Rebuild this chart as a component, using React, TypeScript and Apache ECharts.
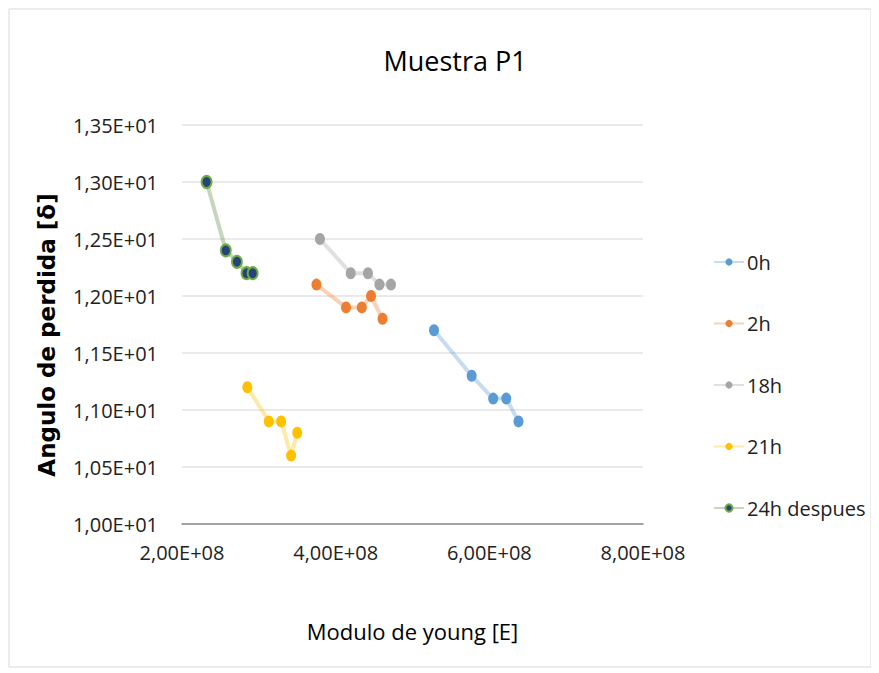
import React, { useEffect, useRef } from "react";
import * as echarts from "echarts";

const seriesNames = ["0h", "2h", "18h", "21h", "24h despues"];
const s0h: [number, number][] = [[5.28e8, 11.7], [5.77e8, 11.3], [6.05e8, 11.1], [6.22e8, 11.1], [6.38e8, 10.9]];
const s2h: [number, number][] = [[3.75e8, 12.1], [4.135e8, 11.9], [4.34e8, 11.9], [4.46e8, 12.0], [4.61e8, 11.8]];
const s18h: [number, number][] = [[3.795e8, 12.5], [4.196e8, 12.2], [4.42e8, 12.2], [4.57e8, 12.1], [4.72e8, 12.1]];
const s21h: [number, number][] = [[2.85e8, 11.2], [3.13e8, 10.9], [3.29e8, 10.9], [3.42e8, 10.6], [3.5e8, 10.8]];
const s24h: [number, number][] = [[2.32e8, 13.0], [2.57e8, 12.4], [2.715e8, 12.3], [2.84e8, 12.2], [2.92e8, 12.2]];
const allData = [s0h, s2h, s18h, s21h, s24h];
const markerColors = ["#5B9BD5", "#ED7D31", "#A5A5A5", "#FFC000", "#264478"];
const lineColors = ["rgba(91,155,213,0.35)", "rgba(237,125,49,0.35)", "rgba(165,165,165,0.35)", "rgba(255,192,0,0.35)", "rgba(112,150,90,0.4)"];

const FONT = "'Open Sans', sans-serif";
const yTitle = "Angulo de perdida [δ]";

export default function App() {
  const ref = useRef<HTMLDivElement>(null);
  useEffect(() => {
    if (!ref.current) return;
    const chart = echarts.init(ref.current, undefined, { renderer: "svg" });
    chart.setOption({
      animation: false,
      backgroundColor: "#ffffff",
      graphic: [
        {
          type: "rect",
          shape: { x: 1, y: 1, width: 862, height: 658 },
          style: { fill: "none", stroke: "#d9d9d9", lineWidth: 1 },
        },
        {
          type: "text",
          x: 39,
          y: 327,
          rotation: Math.PI / 2,
          style: {
            text: yTitle,
            textAlign: "center",
            textVerticalAlign: "middle",
            font: "bold 23px 'DejaVu Sans', sans-serif",
            fill: "#000",
          },
        },
      ],
      title: {
        text: "Muestra P1",
        left: 442,
        top: 34,
        textAlign: "center",
        textStyle: { fontFamily: FONT, fontSize: 27, fontWeight: "normal", color: "#000" },
      },
      grid: { left: 174, right: 228, top: 117, bottom: 144 },
      legend: {
        orient: "vertical",
        left: 700,
        top: 239,
        itemGap: 41.5,
        itemWidth: 30,
        itemHeight: 9,
        data: seriesNames,
        textStyle: { fontFamily: FONT, fontSize: 20, color: "#222", padding: [0, 0, 0, -2] },
      },
      xAxis: {
        type: "value",
        min: 2e8,
        max: 8e8,
        interval: 2e8,
        name: "Modulo de young [E]",
        nameLocation: "middle",
        nameGap: 96,
        nameTextStyle: { fontFamily: FONT, fontSize: 22, color: "#000" },
        axisLine: { show: true, lineStyle: { color: "#8c8c8c", width: 1.5 } },
        axisTick: { show: false },
        splitLine: { show: false },
        axisLabel: {
          fontFamily: FONT,
          fontSize: 20,
          color: "#222",
          margin: 18,
          formatter: (v: number) => (v / 1e8).toFixed(2).replace(".", ",") + "E+08",
        },
      },
      yAxis: {
        type: "value",
        min: 10,
        max: 13.5,
        interval: 0.5,
        axisLine: { show: false },
        axisTick: { show: false },
        splitLine: { lineStyle: { color: "#e3e3e3", width: 1.5 } },
        axisLabel: {
          fontFamily: FONT,
          fontSize: 20,
          color: "#222",
          margin: 24,
          formatter: (v: number) => (v / 10).toFixed(2).replace(".", ",") + "E+01",
        },
      },
      series: seriesNames.map((name, i) => ({
        name,
        type: "line",
        data: allData[i],
        symbol: "circle",
        symbolSize: [10, 12],
        itemStyle:
          i === 4
            ? { color: markerColors[i], borderColor: "#70AD47", borderWidth: 2 }
            : { color: markerColors[i] },
        lineStyle: { color: lineColors[i], width: 4 },
        z: 2,
      })),
    });
    return () => chart.dispose();
  }, []);
  return <div ref={ref} style={{ width: 863, height: 660 }} />;
}
